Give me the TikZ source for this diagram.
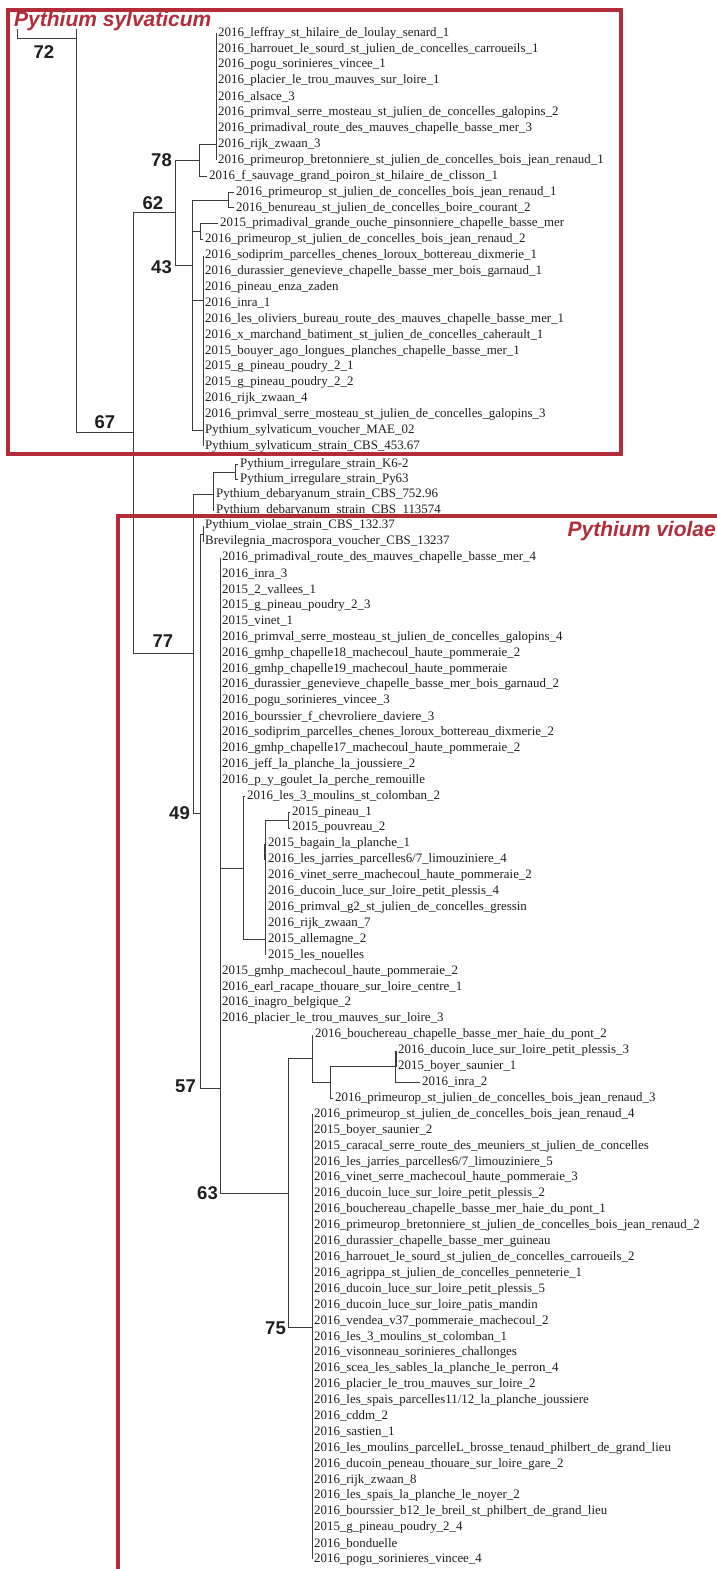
\documentclass[tikz,border=0pt]{standalone}
\usepackage{fontspec}
\setmainfont{Liberation Serif}
\newfontfamily\labsans{Liberation Sans}
\catcode`\_=12
\definecolor{boxred}{RGB}{178,44,58}
\definecolor{linegray}{RGB}{60,60,60}
\definecolor{leafgray}{RGB}{30,30,30}
\newcommand\leaffont{\fontsize{12.9}{14}\selectfont}
\newcommand\bootfont{\labsans\bfseries\fontsize{18.5}{20}\selectfont}
\newcommand\Leaf[3]{\node[leaf] (l#1) at (#2,{33+(#1-1)*15.9}) {#3};}
\newcommand\LeafS[4]{\node[leaf] (l#1) at (#2,{33+(#1-1)*15.9+#4}) {#3};}
\newcommand\hbr[2]{\draw[br] (#1 |- #2) -- (#2);}
\newcommand\vbr[3]{\draw[br] (#1 |- #2) -- (#1 |- #3);}
\tikzset{
  leaf/.style={anchor=west, inner xsep=2pt, inner ysep=0pt, font=\leaffont, text=leafgray},
  boot/.style={font=\bootfont, text=black!88, inner sep=0pt},
  br/.style={draw=linegray, line width=1pt},
  redbox/.style={draw=boxred, line width=3.2pt},
  clade/.style={font=\labsans\bfseries\itshape\fontsize{21}{23}\selectfont, text=boxred, inner sep=0pt}
}
\begin{document}
\begin{tikzpicture}[x=1pt,y=-1pt]
\useasboundingbox (0,0) rectangle (716,1569);
\fill[white] (0,0) rectangle (716,1569);
% leaves
\Leaf{1}{216}{2016_leffray_st_hilaire_de_loulay_senard_1}
\Leaf{2}{216}{2016_harrouet_le_sourd_st_julien_de_concelles_carroueils_1}
\Leaf{3}{216}{2016_pogu_sorinieres_vincee_1}
\Leaf{4}{216}{2016_placier_le_trou_mauves_sur_loire_1}
\Leaf{5}{216}{2016_alsace_3}
\Leaf{6}{216}{2016_primval_serre_mosteau_st_julien_de_concelles_galopins_2}
\Leaf{7}{216}{2016_primadival_route_des_mauves_chapelle_basse_mer_3}
\Leaf{8}{216}{2016_rijk_zwaan_3}
\Leaf{9}{216}{2016_primeurop_bretonniere_st_julien_de_concelles_bois_jean_renaud_1}
\Leaf{10}{207}{2016_f_sauvage_grand_poiron_st_hilaire_de_clisson_1}
\Leaf{11}{234}{2016_primeurop_st_julien_de_concelles_bois_jean_renaud_1}
\Leaf{12}{234}{2016_benureau_st_julien_de_concelles_boire_courant_2}
\Leaf{13}{218}{2015_primadival_grande_ouche_pinsonniere_chapelle_basse_mer}
\Leaf{14}{203}{2016_primeurop_st_julien_de_concelles_bois_jean_renaud_2}
\Leaf{15}{203}{2016_sodiprim_parcelles_chenes_loroux_bottereau_dixmerie_1}
\Leaf{16}{203}{2016_durassier_genevieve_chapelle_basse_mer_bois_garnaud_1}
\Leaf{17}{203}{2016_pineau_enza_zaden}
\Leaf{18}{203}{2016_inra_1}
\Leaf{19}{203}{2016_les_oliviers_bureau_route_des_mauves_chapelle_basse_mer_1}
\Leaf{20}{203}{2016_x_marchand_batiment_st_julien_de_concelles_caherault_1}
\Leaf{21}{203}{2015_bouyer_ago_longues_planches_chapelle_basse_mer_1}
\Leaf{22}{203}{2015_g_pineau_poudry_2_1}
\Leaf{23}{203}{2015_g_pineau_poudry_2_2}
\Leaf{24}{203}{2016_rijk_zwaan_4}
\Leaf{25}{203}{2016_primval_serre_mosteau_st_julien_de_concelles_galopins_3}
\Leaf{26}{203}{Pythium_sylvaticum_voucher_MAE_02}
\Leaf{27}{203}{Pythium_sylvaticum_strain_CBS_453.67}
\LeafS{28}{238}{Pythium_irregulare_strain_K6-2}{2}
\LeafS{29}{238}{Pythium_irregulare_strain_Py63}{1.5}
\Leaf{30}{214}{Pythium_debaryanum_strain_CBS_752.96}
\Leaf{31}{214}{Pythium_debaryanum_strain_CBS_113574}
\Leaf{32}{203}{Pythium_violae_strain_CBS_132.37}
\Leaf{33}{203}{Brevilegnia_macrospora_voucher_CBS_13237}
\Leaf{34}{220}{2016_primadival_route_des_mauves_chapelle_basse_mer_4}
\Leaf{35}{220}{2016_inra_3}
\Leaf{36}{220}{2015_2_vallees_1}
\Leaf{37}{220}{2015_g_pineau_poudry_2_3}
\Leaf{38}{220}{2015_vinet_1}
\Leaf{39}{220}{2016_primval_serre_mosteau_st_julien_de_concelles_galopins_4}
\Leaf{40}{220}{2016_gmhp_chapelle18_machecoul_haute_pommeraie_2}
\Leaf{41}{220}{2016_gmhp_chapelle19_machecoul_haute_pommeraie}
\Leaf{42}{220}{2016_durassier_genevieve_chapelle_basse_mer_bois_garnaud_2}
\Leaf{43}{220}{2016_pogu_sorinieres_vincee_3}
\Leaf{44}{220}{2016_bourssier_f_chevroliere_daviere_3}
\Leaf{45}{220}{2016_sodiprim_parcelles_chenes_loroux_bottereau_dixmerie_2}
\Leaf{46}{220}{2016_gmhp_chapelle17_machecoul_haute_pommeraie_2}
\Leaf{47}{220}{2016_jeff_la_planche_la_joussiere_2}
\Leaf{48}{220}{2016_p_y_goulet_la_perche_remouille}
\Leaf{49}{245}{2016_les_3_moulins_st_colomban_2}
\Leaf{50}{290}{2015_pineau_1}
\Leaf{51}{290}{2015_pouvreau_2}
\Leaf{52}{266}{2015_bagain_la_planche_1}
\Leaf{53}{266}{2016_les_jarries_parcelles6/7_limouziniere_4}
\Leaf{54}{266}{2016_vinet_serre_machecoul_haute_pommeraie_2}
\Leaf{55}{266}{2016_ducoin_luce_sur_loire_petit_plessis_4}
\Leaf{56}{266}{2016_primval_g2_st_julien_de_concelles_gressin}
\Leaf{57}{266}{2016_rijk_zwaan_7}
\Leaf{58}{266}{2015_allemagne_2}
\Leaf{59}{266}{2015_les_nouelles}
\Leaf{60}{220}{2015_gmhp_machecoul_haute_pommeraie_2}
\Leaf{61}{220}{2016_earl_racape_thouare_sur_loire_centre_1}
\Leaf{62}{220}{2016_inagro_belgique_2}
\Leaf{63}{220}{2016_placier_le_trou_mauves_sur_loire_3}
\Leaf{64}{313}{2016_bouchereau_chapelle_basse_mer_haie_du_pont_2}
\Leaf{65}{396}{2016_ducoin_luce_sur_loire_petit_plessis_3}
\Leaf{66}{396}{2015_boyer_saunier_1}
\Leaf{67}{420}{2016_inra_2}
\Leaf{68}{333}{2016_primeurop_st_julien_de_concelles_bois_jean_renaud_3}
\Leaf{69}{312}{2016_primeurop_st_julien_de_concelles_bois_jean_renaud_4}
\Leaf{70}{312}{2015_boyer_saunier_2}
\Leaf{71}{312}{2015_caracal_serre_route_des_meuniers_st_julien_de_concelles}
\Leaf{72}{312}{2016_les_jarries_parcelles6/7_limouziniere_5}
\Leaf{73}{312}{2016_vinet_serre_machecoul_haute_pommeraie_3}
\Leaf{74}{312}{2016_ducoin_luce_sur_loire_petit_plessis_2}
\Leaf{75}{312}{2016_bouchereau_chapelle_basse_mer_haie_du_pont_1}
\Leaf{76}{312}{2016_primeurop_bretonniere_st_julien_de_concelles_bois_jean_renaud_2}
\Leaf{77}{312}{2016_durassier_chapelle_basse_mer_guineau}
\Leaf{78}{312}{2016_harrouet_le_sourd_st_julien_de_concelles_carroueils_2}
\Leaf{79}{312}{2016_agrippa_st_julien_de_concelles_penneterie_1}
\Leaf{80}{312}{2016_ducoin_luce_sur_loire_petit_plessis_5}
\Leaf{81}{312}{2016_ducoin_luce_sur_loire_patis_mandin}
\Leaf{82}{312}{2016_vendea_v37_pommeraie_machecoul_2}
\Leaf{83}{312}{2016_les_3_moulins_st_colomban_1}
\Leaf{84}{312}{2016_visonneau_sorinieres_challonges}
\Leaf{85}{312}{2016_scea_les_sables_la_planche_le_perron_4}
\Leaf{86}{312}{2016_placier_le_trou_mauves_sur_loire_2}
\Leaf{87}{312}{2016_les_spais_parcelles11/12_la_planche_joussiere}
\Leaf{88}{312}{2016_cddm_2}
\Leaf{89}{312}{2016_sastien_1}
\Leaf{90}{312}{2016_les_moulins_parcelleL_brosse_tenaud_philbert_de_grand_lieu}
\Leaf{91}{312}{2016_ducoin_peneau_thouare_sur_loire_gare_2}
\Leaf{92}{312}{2016_rijk_zwaan_8}
\Leaf{93}{312}{2016_les_spais_la_planche_le_noyer_2}
\Leaf{94}{312}{2016_bourssier_b12_le_breil_st_philbert_de_grand_lieu}
\Leaf{95}{312}{2015_g_pineau_poudry_2_4}
\Leaf{96}{312}{2016_bonduelle}
\Leaf{97}{312}{2016_pogu_sorinieres_vincee_4}
% internal nodes
\coordinate (rtop) at (17,29);
\coordinate (root) at (17,38);
\coordinate (n72top) at (76,29);
\coordinate (n72) at (76,38);
\coordinate (n67) at (133,432.5);
\coordinate (n62) at (175,212.6);
\coordinate (n78) at (199,160.2);
\coordinate (p1) at (216,144.3);
\coordinate (n43) at (192,265);
\coordinate (c2) at (228,200);
\coordinate (c3) at (200,231.8);
\coordinate (p2) at (203,300);
\coordinate (n77) at (193,653);
\coordinate (p3) at (213,494);
\coordinate (c4) at (235,472);
\coordinate (n49) at (200,813);
\coordinate (c5) at (203,534);
\coordinate (n57) at (220,1088);
\coordinate (p4) at (220,983);
\coordinate (S) at (243,868);
\coordinate (T) at (265,939);
\coordinate (c6) at (288,820);
\coordinate (n63) at (288,1193);
\coordinate (U) at (312,1058);
\coordinate (V) at (330,1082);
\coordinate (W) at (395,1066);
\coordinate (c7) at (396,1058.5);
\coordinate (n75) at (312,1327);
% branches
\draw[br] (rtop) -- (root) -- (n72);
\draw[br] (n72top) -- (n72 |- n67) -- (n67);
\vbr{n67}{n62}{n77} \hbr{n67}{n62} \hbr{n67}{n77}
\vbr{n62}{n78}{n43} \hbr{n62}{n78} \hbr{n62}{n43}
\vbr{n78}{p1}{l10.west} \hbr{n78}{p1} \hbr{n78}{l10.west}
\vbr{p1}{l1.west}{l9.west}
\vbr{n43}{c2}{l26.west} \hbr{n43}{c2} \hbr{n43}{c3} \hbr{n43}{p2} \hbr{n43}{l26.west}
\vbr{c2}{l11.west}{l12.west} \hbr{c2}{l11.west} \hbr{c2}{l12.west}
\vbr{c3}{l13.west}{l14.west} \hbr{c3}{l13.west} \hbr{c3}{l14.west}
\vbr{p2}{l15.west}{l27.west}
\vbr{n77}{p3}{n49} \hbr{n77}{p3} \hbr{n77}{n49}
\vbr{p3}{c4}{l31.west} \hbr{p3}{c4} \hbr{p3}{l30.west} \hbr{p3}{l31.west}
\vbr{c4}{l28.west}{l29.west} \hbr{c4}{l28.west} \hbr{c4}{l29.west}
\vbr{n49}{c5}{n57} \hbr{n49}{c5} \hbr{n49}{n57}
\vbr{c5}{l32.west}{l33.west}
\vbr{n57}{p4}{n63} \hbr{n57}{n63}
\vbr{p4}{l34.west}{l63.west} \hbr{p4}{S}
\vbr{S}{l49.west}{T} \hbr{S}{l49.west} \hbr{S}{T}
\vbr{T}{c6}{l59.west} \hbr{T}{c6}
\draw[br, line width=2pt] (T |- l52.west) -- (T |- l53.west);
\vbr{c6}{l50.west}{l51.west} \hbr{c6}{l50.west} \hbr{c6}{l51.west}
\vbr{n63}{U}{n75} \hbr{n63}{U} \hbr{n63}{n75}
\vbr{U}{l64.west}{V} \hbr{U}{V}
\vbr{V}{W}{l68.west} \hbr{V}{W} \hbr{V}{l68.west}
\vbr{W}{c7}{l67.west} \hbr{W}{l67.west}
\draw[br, line width=2pt] (c7 |- l65.west) -- (c7 |- l66.west);
\vbr{n75}{l69.west}{l97.west}
% bootstrap values
\node[boot] (b72) at (44,52) {72};
\node[boot, anchor=east] (b78) at (172,160) {78};
\node[boot] (b62) at (153,203) {62};
\node[boot, anchor=east] (b43) at (172,267) {43};
\node[boot] (b67) at (105,422) {67};
\node[boot] (b77) at (163,641) {77};
\node[boot, anchor=east] (b49) at (190,813) {49};
\node[boot, anchor=east] (b57) at (196,1086) {57};
\node[boot, anchor=east] (b63) at (218,1193) {63};
\node[boot, anchor=east] (b75) at (286,1328) {75};
% clade boxes
\draw[redbox] (8,10) rectangle (621,454);
\draw[redbox] (118,516) rectangle (780,1620);
\node[clade, anchor=west] (syl) at (14,21) {Pythium sylvaticum};
\node[clade, anchor=east] (vio) at (716,531) {Pythium violae};
\end{tikzpicture}
\end{document}
